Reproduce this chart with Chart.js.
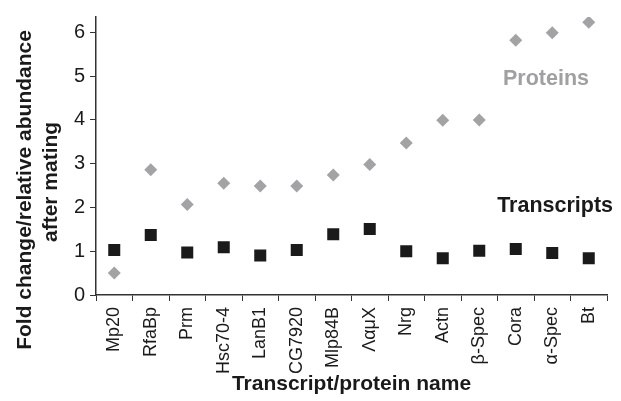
<!DOCTYPE html>
<html>
<head>
<meta charset="utf-8">
<script src="https://cdn.jsdelivr.net/npm/chart.js@4"></script>
<style>
  html, body { margin: 0; padding: 0; background: #fff; }
  #wrap { width: 621px; height: 401px; }
</style>
</head>
<body>
<div id="wrap"><canvas id="chart" width="621" height="401"></canvas></div>
<script>
// Nama transkrip/protein dan nilai yang dibaca dari gambar
const names = ['Mp20', 'RfaBp', 'Prm', 'Hsc70-4', 'LanB1', 'CG7920', 'Mlp84B', 'ΛαμX',
  'Nrg', 'Actn', 'β-Spec', 'Cora', 'α-Spec', 'Bt'];
const proteins = [0.5, 2.86, 2.07, 2.55, 2.49, 2.49, 2.74, 2.98, 3.47, 3.99, 4.0, 5.82, 5.99, 6.23];
const transcripts = [1.03, 1.37, 0.97, 1.09, 0.9, 1.03, 1.39, 1.51, 1.0, 0.84, 1.01, 1.05, 0.96, 0.84];
const yTicks = [0, 1, 2, 3, 4, 5, 6];
const yTitle = ['Fold change/relative abundance', 'after mating'];

const font = 'Liberation Sans, Arial, sans-serif';

// Label "Proteins" / "Transcripts" + judul sumbu Y (dua baris)
const extraText = {
  id: 'extraText',
  afterDatasetsDraw(chart) {
    const { ctx, scales: { x, y } } = chart;
    ctx.save();
    ctx.font = 'bold 21.5px ' + font;
    ctx.textAlign = 'left';
    ctx.textBaseline = 'middle';
    ctx.fillStyle = '#a0a0a2';
    ctx.fillText('Proteins', x.getPixelForValue(10.65), y.getPixelForValue(4.94));
    ctx.fillStyle = '#1a1a1a';
    ctx.fillText('Transcripts', x.getPixelForValue(10.49), y.getPixelForValue(2.02));

    // judul sumbu Y, diputar
    ctx.textAlign = 'center';
    ctx.font = 'bold 21px ' + font;
    ctx.translate(25, y.getPixelForValue(2.4));
    ctx.rotate(-Math.PI / 2);
    ctx.fillText(yTitle[0], 0, 0);
    ctx.fillText(yTitle[1], 8, 26);
    ctx.restore();
  }
};

new Chart(document.getElementById('chart'), {
  type: 'line',
  data: {
    labels: names,
    datasets: [
      {
        label: 'Proteins',
        data: proteins,
        showLine: false,
        pointStyle: 'rectRot',
        pointRadius: 6.5,
        pointBackgroundColor: '#a3a3a5',
        pointBorderColor: '#a3a3a5',
        pointBorderWidth: 0
      },
      {
        label: 'Transcripts',
        data: transcripts,
        showLine: false,
        pointStyle: 'rect',
        pointRadius: 8.5,
        pointBackgroundColor: '#1a1a1a',
        pointBorderColor: '#1a1a1a',
        pointBorderWidth: 0
      }
    ]
  },
  options: {
    responsive: false,
    animation: false,
    layout: { padding: { top: 13, right: 14, left: 0, bottom: 0 } },
    plugins: {
      legend: { display: false },
      tooltip: { enabled: false }
    },
    scales: {
      x: {
        offset: true,
        grid: {
          offset: true,
          drawOnChartArea: false,
          drawTicks: true,
          tickLength: 6,
          color: '#333'
        },
        border: { display: true, color: '#333', width: 1.5 },
        ticks: {
          minRotation: 90,
          maxRotation: 90,
          autoSkip: false,
          padding: 6,
          color: '#1a1a1a',
          font: { family: font, size: 18 }
        },
        title: {
          display: true,
          text: 'Transcript/protein name',
          color: '#1a1a1a',
          padding: { top: 0, bottom: 4 },
          font: { family: font, size: 21, weight: 'bold' }
        },
        afterFit: s => { s.height = 106; }
      },
      y: {
        min: 0,
        max: 6.35,
        afterBuildTicks: axis => { axis.ticks = yTicks.map(v => ({ value: v })); },
        grid: {
          drawOnChartArea: false,
          drawTicks: true,
          tickLength: 6,
          color: '#333'
        },
        border: { display: true, color: '#333', width: 1.5 },
        ticks: {
          padding: 5,
          color: '#1a1a1a',
          font: { family: font, size: 20 }
        },
        title: { display: false },
        afterFit: s => { s.width = 96; }
      }
    }
  },
  plugins: [extraText]
});
</script>
</body>
</html>
